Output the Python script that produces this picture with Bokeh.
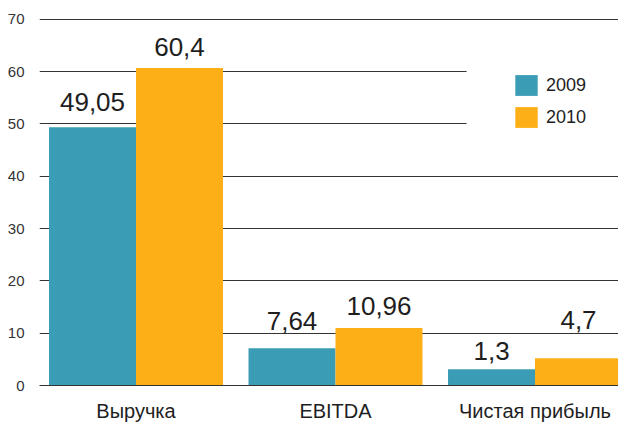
from bokeh.plotting import figure
from bokeh.models import (Range1d, FixedTicker, Legend, LegendItem, BoxAnnotation,
                          ColumnDataSource)
from bokeh.core.properties import value
from bokeh.embed import file_html
from bokeh.resources import INLINE

# ---- data ----
categories = ["Выручка", "EBITDA", "Чистая прибыль"]
series = ["2009", "2010"]
values_2009 = [49.4, 7.1, 3.1]      # drawn bar heights
values_2010 = [60.7, 11.0, 5.2]
labels_2009 = ["49,05", "7,64", "1,3"]   # printed labels
labels_2010 = ["60,4", "10,96", "4,7"]
y_ticks = [0, 10, 20, 30, 40, 50, 60, 70]

# ---- layout (label positions, in axis units) ----
label_y_2009 = [52.8, 10.9, 5.35]
label_y_2010 = [63.3, 13.8, 11.1]

FONT = "Liberation Sans"
C2009 = "#3b9cb5"
C2010 = "#fdaf18"
BAR_W = 0.436
OFF = BAR_W / 2

pos = list(range(len(categories)))

p = figure(width=618, height=424, output_backend="svg", toolbar_location=None,
           x_range=Range1d(-0.4837, 2.4185), y_range=Range1d(0, 71.7),
           min_border_left=39, min_border_right=0, min_border_top=10,
           min_border_bottom=39)
p.outline_line_color = None
p.background_fill_color = "white"

src09 = ColumnDataSource(dict(x=[i - OFF for i in pos], top=values_2009,
                              ly=label_y_2009, lab=labels_2009))
src10 = ColumnDataSource(dict(x=[i + OFF for i in pos], top=values_2010,
                              ly=label_y_2010, lab=labels_2010))

r09 = p.vbar(x="x", top="top", width=BAR_W, bottom=0, source=src09,
             fill_color=C2009, line_color=None)
r10 = p.vbar(x="x", top="top", width=BAR_W, bottom=0, source=src10,
             fill_color=C2010, line_color=None)

for s in (src09, src10):
    p.text(x="x", y="ly", text="lab", source=s, text_font=value(FONT),
           text_font_size="26px", text_align="center", y_offset=-7,
           text_baseline="alphabetic", text_color="#1e1e1e")

# grid
p.xgrid.grid_line_color = None
p.ygrid.ticker = FixedTicker(ticks=y_ticks)
p.ygrid.grid_line_color = "#333333"
p.ygrid.grid_line_width = 1

# y axis
p.yaxis.ticker = FixedTicker(ticks=y_ticks)
p.yaxis.axis_line_color = None
p.yaxis.major_tick_line_color = None
p.yaxis.minor_tick_line_color = None
p.yaxis.major_label_standoff = 9
p.yaxis.major_label_text_font = FONT
p.yaxis.major_label_text_font_size = "15px"
p.yaxis.major_label_text_color = "#333333"

# x axis
p.xaxis.ticker = FixedTicker(ticks=pos)
p.xaxis.major_label_overrides = {i: c for i, c in zip(pos, categories)}
p.xaxis.axis_line_color = "#333333"
p.xaxis.axis_line_width = 1
p.xaxis.major_tick_line_color = None
p.xaxis.minor_tick_line_color = None
p.xaxis.major_label_standoff = 8
p.xaxis.major_label_text_font = FONT
p.xaxis.major_label_text_font_size = "20px"
p.xaxis.major_label_text_color = "#1e1e1e"

# white legend backdrop
p.add_layout(BoxAnnotation(left=1.657, right=2.5, bottom=43, top=66,
                           fill_color="white", fill_alpha=1, line_color=None))

legend = Legend(items=[LegendItem(label=series[0], renderers=[r09]),
                       LegendItem(label=series[1], renderers=[r10])],
                location=(473, 255), padding=0, margin=0,
                glyph_width=28, glyph_height=26, label_standoff=6, spacing=6,
                label_text_font=FONT, label_text_font_size="18px",
                label_text_color="#1e1e1e", border_line_color=None,
                background_fill_alpha=0)
p.add_layout(legend)

open("out.html", "w").write(file_html(p, INLINE))
